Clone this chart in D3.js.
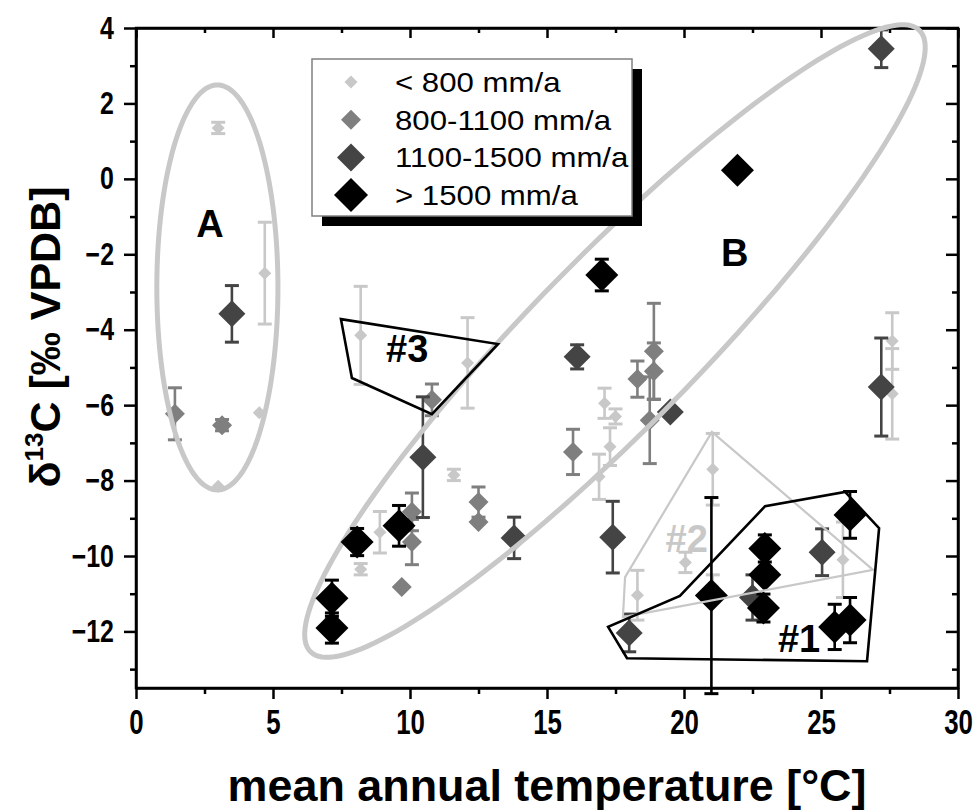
<!DOCTYPE html>
<html><head><meta charset="utf-8">
<script src="https://cdn.jsdelivr.net/npm/d3@7"></script>
<style>
body{margin:0;background:#fff}
svg{display:block}
text{font-family:Arial,"Liberation Sans",Helvetica,sans-serif}
</style>
</head><body>
<svg id="chart" width="979" height="810"></svg>
<script>
// ---------------- DATA ----------------
const seriesNames = ["< 800 mm/a", "800-1100 mm/a", "1100-1500 mm/a", "> 1500 mm/a"];

// < 800 mm/a
const lightX   = [3.0, 3.0, 4.7, 4.5, 8.2, 8.2, 8.9, 11.6, 12.1, 17.1, 17.5, 17.3, 16.9, 21.05, 18.3, 20.05, 25.8, 21.05, 27.6, 27.6];
const lightY   = [1.35, -8.15, -2.5, -6.2, -4.15, -10.35, -9.37, -7.85, -4.88, -5.95, -6.3, -7.1, -7.9, -7.7, -11.04, -10.17, -10.1, -10.8, -4.3, -5.7];
const lightErr = [0.15, 0, 1.35, 0, 1.3, 0.15, 0.55, 0.15, 1.2, 0.4, 0.2, 0.5, 0.6, 0.95, 0.66, 0.27, 1.0, 0.3, 0.75, 1.2];

// 800-1100 mm/a
const medX   = [1.42, 3.14, 10.8, 10.07, 10.07, 9.7, 12.5, 12.5, 15.95, 18.3, 18.9, 18.9, 18.75];
const medY   = [-6.23, -6.53, -5.86, -8.83, -9.63, -10.82, -8.57, -9.1, -7.24, -5.31, -4.57, -5.1, -6.4];
const medErr = [0.69, 0.15, 0.42, 0.5, 0.6, 0, 0.4, 0, 0.6, 0.48, 1.27, 0.75, 1.15];

// 1100-1500 mm/a
const darkX   = [3.5, 10.47, 13.8, 16.1, 17.4, 19.5, 18.0, 25.04, 27.2, 27.2, 22.5];
const darkY   = [-3.58, -7.38, -9.52, -4.72, -9.5, -6.18, -12.04, -9.9, 3.45, -5.52, -11.1];
const darkErr = [0.75, 1.6, 0.55, 0.32, 0.95, 0, 0.5, 0.62, 0.5, 1.3, 0.6];

// > 1500 mm/a
const blackX   = [7.15, 7.15, 8.07, 9.6, 17.0, 21.95, 21.0, 22.95, 22.95, 22.9, 26.06, 25.5, 26.06];
const blackY   = [-11.12, -11.91, -9.63, -9.2, -2.55, 0.23, -11.05, -9.8, -10.5, -11.38, -8.91, -11.88, -11.7];
const blackErr = [0.48, 0.4, 0.36, 0.54, 0.42, 0, 2.6, 0.36, 0, 0.37, 0.62, 0.6, 0.6];

// axes
const xTicks = [0, 5, 10, 15, 20, 25, 30];
const xMinorTicks = [2.5, 7.5, 12.5, 17.5, 22.5, 27.5];
const yTicks = [4, 2, 0, -2, -4, -6, -8, -10, -12];
const yMinorTicks = [3, 1, -1, -3, -5, -7, -9, -11, -13];
const xTitle = "mean annual temperature [°C]";

// annotations (data coordinates): ellipse = centre, end of one semi-axis, end of the other
const ellipseA = {c: [2.97, -2.88], m: [2.97, 2.49], n: [5.18, -2.88]};
const ellipseB = {c: [17.48, -4.3], m: [28.59, 3.94], n: [19.67, -5.86]};
const poly1 = [[17.23, -11.88], [17.92, -12.71], [26.68, -12.79], [27.12, -9.26], [25.88, -8.3], [22.96, -8.68], [19.85, -11.06]];
const poly2 = [[21.02, -6.71], [17.85, -10.56], [17.77, -11.62], [26.9, -10.37]];
const poly3 = [[7.48, -3.72], [13.21, -4.38], [10.8, -6.24], [7.88, -5.28]];
const annoLabels = [
  {t: "A", x: 2.7, y: -1.55, c: "#000"},
  {t: "B", x: 21.85, y: -2.3, c: "#000"},
  {t: "#3", x: 9.9, y: -4.85, c: "#000"},
  {t: "#2", x: 20.1, y: -9.9, c: "#c8c8c8"},
  {t: "#1", x: 24.2, y: -12.55, c: "#000"}
];

// ---------------- STYLE ----------------
const colors = ["#c8c8c8", "#7f7f7f", "#444444", "#000000"];
const halfDiag = [6.5, 10, 13.5, 16.5];

const svg = d3.select("#chart");
const x = d3.scaleLinear().domain([0, 30]).range([136, 958]);
const y = d3.scaleLinear().domain([-13.5, 4]).range([688, 28]);

const diamond = {draw(ctx, size){const h = Math.sqrt(size/2); ctx.moveTo(0,-h); ctx.lineTo(h,0); ctx.lineTo(0,h); ctx.lineTo(-h,0); ctx.closePath();}};

const series = [
  {xs: lightX, ys: lightY, es: lightErr},
  {xs: medX, ys: medY, es: medErr},
  {xs: darkX, ys: darkY, es: darkErr},
  {xs: blackX, ys: blackY, es: blackErr}
].map((s, i) => ({i, pts: s.xs.map((v, k) => ({x: v, y: s.ys[k], e: s.es[k]}))}));

function drawSeries(s){
  const g = svg.append("g").attr("class", "series-" + s.i);
  const col = colors[s.i];
  const withErr = s.pts.filter(p => p.e > 0);
  const eb = g.selectAll("g.eb").data(withErr).join("g").attr("class","eb")
    .attr("stroke", col).attr("stroke-width", 2.6).attr("fill", "none");
  eb.append("line").attr("x1", d => x(d.x)).attr("x2", d => x(d.x))
    .attr("y1", d => y(d.y + d.e)).attr("y2", d => y(d.y - d.e));
  eb.append("line").attr("x1", d => x(d.x) - 7).attr("x2", d => x(d.x) + 7)
    .attr("y1", d => y(d.y + d.e)).attr("y2", d => y(d.y + d.e)).attr("stroke-width", 3);
  eb.append("line").attr("x1", d => x(d.x) - 7).attr("x2", d => x(d.x) + 7)
    .attr("y1", d => y(d.y - d.e)).attr("y2", d => y(d.y - d.e)).attr("stroke-width", 3);
  const h = halfDiag[s.i];
  g.selectAll("path.pt").data(s.pts).join("path").attr("class","pt")
    .attr("d", d3.symbol(diamond, 2*h*h)())
    .attr("transform", d => `translate(${x(d.x)},${y(d.y)})`)
    .attr("fill", col);
}

// ---------------- AXES ----------------
function styleAxis(g){
  g.selectAll("path.domain").attr("stroke", "#000").attr("stroke-width", 2.5);
  g.selectAll(".tick line").attr("stroke", "#000").attr("stroke-width", 2.5);
}
const fmt = d3.format("d");
const axB = svg.append("g").attr("transform", "translate(0,688)")
  .call(d3.axisBottom(x).tickValues(xTicks).tickSize(11).tickSizeOuter(0).tickFormat(fmt));
axB.selectAll(".tick text").attr("font-size", 30).attr("font-weight", "bold").attr("fill", "#000")
  .attr("y", 0).attr("dy", 0).attr("transform", "translate(0,46) scale(0.86,1.2)");
styleAxis(axB);
const axBm = svg.append("g").attr("transform", "translate(0,688)")
  .call(d3.axisBottom(x).tickValues(xMinorTicks).tickSize(6).tickSizeOuter(0).tickFormat(""));
styleAxis(axBm); axBm.select("path.domain").remove();

const axT = svg.append("g").attr("transform", "translate(0,28)")
  .call(d3.axisTop(x).tickValues(xTicks).tickSize(-10).tickSizeOuter(0).tickFormat(""));
styleAxis(axT);
const axTm = svg.append("g").attr("transform", "translate(0,28)")
  .call(d3.axisTop(x).tickValues(xMinorTicks).tickSize(-5).tickSizeOuter(0).tickFormat(""));
styleAxis(axTm); axTm.select("path.domain").remove();

const axL = svg.append("g").attr("transform", "translate(136,0)")
  .call(d3.axisLeft(y).tickValues(yTicks).tickSize(12).tickSizeOuter(0).tickFormat(fmt));
axL.selectAll(".tick text").attr("font-size", 29).attr("font-weight", "bold").attr("fill", "#000")
  .attr("x", 0).attr("dy", 0).attr("transform", "translate(-22,10) scale(0.86,1.05)");
styleAxis(axL);
const axLm = svg.append("g").attr("transform", "translate(136,0)")
  .call(d3.axisLeft(y).tickValues(yMinorTicks).tickSize(6).tickSizeOuter(0).tickFormat(""));
styleAxis(axLm); axLm.select("path.domain").remove();

const axR = svg.append("g").attr("transform", "translate(958,0)")
  .call(d3.axisRight(y).tickValues(yTicks).tickSize(-12).tickSizeOuter(0).tickFormat(""));
styleAxis(axR);
const axRm = svg.append("g").attr("transform", "translate(958,0)")
  .call(d3.axisRight(y).tickValues(yMinorTicks).tickSize(-6).tickSizeOuter(0).tickFormat(""));
styleAxis(axRm); axRm.select("path.domain").remove();

// frame
svg.append("rect").attr("x", x(0)).attr("y", y(4)).attr("width", x(30)-x(0)).attr("height", y(-13.5)-y(4))
  .attr("fill", "none").attr("stroke", "#000").attr("stroke-width", 2.5);

// axis titles
const xc = (x(0)+x(30))/2;
svg.append("text").attr("x", 0).attr("y", 0).attr("text-anchor", "middle")
  .attr("transform", `translate(${xc},801) scale(1.02,1)`)
  .attr("font-size", 44).attr("font-weight", "bold").text(xTitle);

const yl = svg.append("text").attr("transform", "translate(60,337) rotate(-90)")
  .attr("text-anchor", "middle").attr("font-size", 43).attr("font-weight", "bold");
yl.append("tspan").text("δ");
yl.append("tspan").attr("font-size", 26).attr("dy", -17).text("13");
yl.append("tspan").attr("dy", 17).text("C [‰ VPDB]");

// ---------------- MARKS ----------------
drawSeries(series[0]);
drawSeries(series[1]);
drawSeries(series[2]);

function ellipsePts(e){
  const pts = [];
  for (let k = 0; k < 180; k++){
    const t = 2*Math.PI*k/180;
    pts.push([e.c[0] + Math.cos(t)*(e.m[0]-e.c[0]) + Math.sin(t)*(e.n[0]-e.c[0]),
              e.c[1] + Math.cos(t)*(e.m[1]-e.c[1]) + Math.sin(t)*(e.n[1]-e.c[1])]);
  }
  return pts;
}
const lineClosed = d3.line().x(d => x(d[0])).y(d => y(d[1])).curve(d3.curveLinearClosed);
[ellipseA, ellipseB].forEach(e => {
  svg.append("path").attr("d", lineClosed(ellipsePts(e)))
    .attr("fill", "none").attr("stroke", "#c8c8c8").attr("stroke-width", 5);
});

drawSeries(series[3]);

svg.append("path").attr("d", lineClosed(poly2)).attr("fill", "none").attr("stroke", "#c8c8c8").attr("stroke-width", 2.2);
svg.append("path").attr("d", lineClosed(poly1)).attr("fill", "none").attr("stroke", "#000").attr("stroke-width", 2.6);
svg.append("path").attr("d", lineClosed(poly3)).attr("fill", "none").attr("stroke", "#000").attr("stroke-width", 2.6);

svg.selectAll("text.anno").data(annoLabels).join("text").attr("class", "anno")
  .attr("x", d => x(d.x)).attr("y", d => y(d.y)).attr("text-anchor", "middle")
  .attr("font-size", 38).attr("font-weight", "bold").attr("fill", d => d.c).text(d => d.t);

// ---------------- LEGEND ----------------
const lg = svg.append("g").attr("transform", "translate(312,59)");
lg.append("rect").attr("x", 10).attr("y", 10).attr("width", 320).attr("height", 157).attr("fill", "#000");
lg.append("rect").attr("x", 0).attr("y", 0).attr("width", 320).attr("height", 157)
  .attr("fill", "#fff").attr("stroke", "#808080").attr("stroke-width", 1.5);
const legH = [6.5, 10, 14, 17];
const rows = lg.selectAll("g.row").data(seriesNames).join("g").attr("class", "row")
  .attr("transform", (d, i) => `translate(0,${23 + i*37.7})`);
rows.append("path").attr("d", (d, i) => d3.symbol(diamond, 2*legH[i]*legH[i])())
  .attr("transform", "translate(39,0)").attr("fill", (d, i) => colors[i]);
rows.append("text").attr("x", 0).attr("y", 0).attr("font-size", 27).attr("fill", "#000")
  .attr("transform", "translate(83,10) scale(1.155,1)").text(d => d);
</script>
</body></html>
